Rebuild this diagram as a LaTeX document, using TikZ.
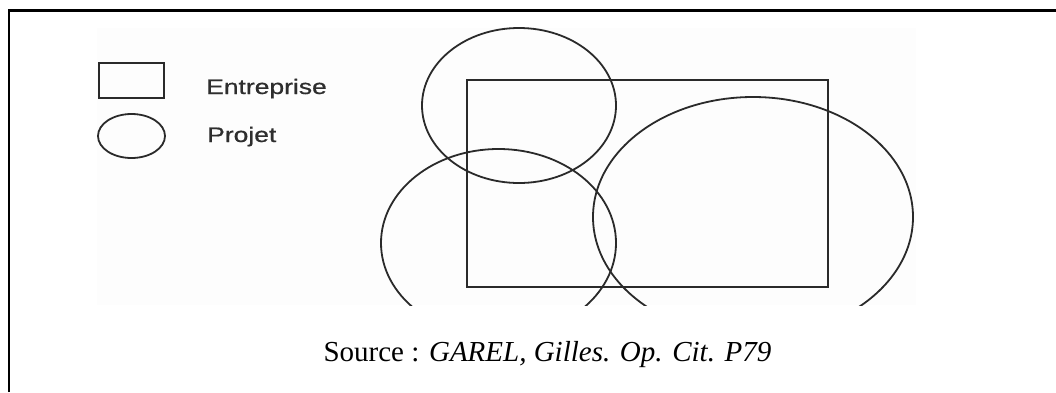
\documentclass[tikz,border=0pt]{standalone}
\usepackage{fontspec}
\setmainfont{Liberation Serif}
\newfontfamily\legendfont{Liberation Sans}
\definecolor{ink}{HTML}{2A2A2A}
\definecolor{legtext}{HTML}{2E2E2E}
\tikzset{
  box/.style={draw=ink, line width=2.2pt},
  proj/.style={draw=ink, line width=1.8pt},
  legend/.style={anchor=base west, inner sep=0pt, text=legtext, font=\legendfont\fontsize{21}{25}\selectfont},
  caption/.style={anchor=base, inner sep=0pt, font=\fontsize{29}{34}\selectfont}
}
\begin{document}
\begin{tikzpicture}[x=1pt,y=-1pt]
\useasboundingbox (0,0) rectangle (1056,392);
% outer frame (left and top edges)
\coordinate (fbl) at (9,392);
\coordinate (ftl) at (9,10.5);
\coordinate (ftr) at (1056,10.5);
\draw[line width=2.2pt] (fbl) -- (ftl) -- (ftr);
% faint figure background
\fill[black!0.8] (97,28) rectangle (916,305);
% legend
\draw[box] (99,63) rectangle (164,98);
\draw[proj] (131.5,136) ellipse [x radius=33.5pt, y radius=22pt];
\node[legend] (lent) at (206,94) {\scalebox{1.26}[1]{\addfontfeature{FakeBold=0.6}Entreprise}};
\node[legend] (lproj) at (207,142) {\scalebox{1.26}[1]{\addfontfeature{FakeBold=0.6}Projet}};
% enterprise
\draw[box] (467,80) rectangle (828,287);
% projects
\draw[proj] (519,105.5) ellipse [x radius=97pt, y radius=77.5pt];
\begin{scope}
\clip (300,0) rectangle (1000,305);
\draw[proj] (498.5,243) ellipse [x radius=117.5pt, y radius=94pt];
\draw[proj] (753,217) ellipse [x radius=160pt, y radius=120pt];
\end{scope}
% caption
\node[caption] (src) at (547.5,361) {Source : \textit{GAREL, Gilles. Op. Cit. P79}};
\end{tikzpicture}
\end{document}
